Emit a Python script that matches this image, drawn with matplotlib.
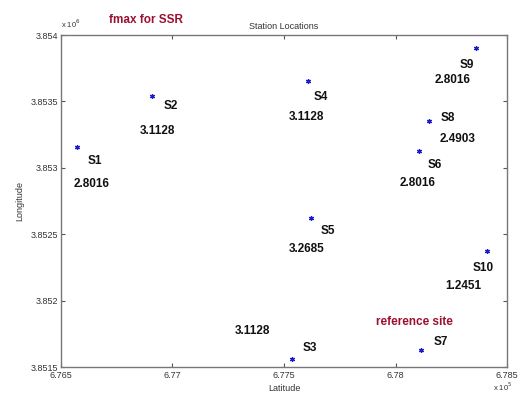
import matplotlib

matplotlib.use("Agg")
from matplotlib import pyplot as plt

# station coordinates (latitude in 1e5, longitude in 1e6)
stations = ["S1", "S2", "S3", "S4", "S5", "S6", "S7", "S8", "S9", "S10"]
latitude = [6.76570, 6.76909, 6.77534, 6.77606, 6.77621, 6.78105, 6.78114, 6.78152, 6.78361, 6.78409]
longitude = [3.85316, 3.85354, 3.85156, 3.85365, 3.85262, 3.85313, 3.85163, 3.85335, 3.85390, 3.85237]
fmax = ["2.8016", "3.1128", "3.1128", "3.1128", "3.2685", "2.8016", "reference site", "2.4903", "2.8016", "1.2451"]

x_ticks = [6.765, 6.77, 6.775, 6.78, 6.785]
x_tick_labels = ["6.765", "6.77", "6.775", "6.78", "6.785"]
y_ticks = [3.8515, 3.852, 3.8525, 3.853, 3.8535, 3.854]
y_tick_labels = ["3.8515", "3.852", "3.8525", "3.853", "3.8535", "3.854"]

# label offsets in pixels (dx right, dy down) from each marker
name_offsets = {
    "S1": (18, 14), "S2": (19, 10), "S3": (18, -11), "S4": (13, 16), "S5": (17, 13),
    "S6": (16, 14), "S7": (20, -8), "S8": (18, -3), "S9": (-9, 17), "S10": (-4, 17),
}
value_offsets = {
    "S1": (15, 37), "S2": (5, 35), "S3": (-39, -28), "S4": (-1, 36), "S5": (-4, 31),
    "S6": (-1, 32), "S7": (-6, -28), "S8": (28, 18), "S9": (-23, 32), "S10": (-23, 35),
}

plt.rcParams["font.family"] = ["Liberation Sans", "DejaVu Sans"]

fig = plt.figure(figsize=(5.2, 3.98), dpi=100)
ax = fig.add_axes([61 / 520, 1 - 367 / 398, 446 / 520, 332 / 398])

ax.plot(latitude, longitude, linestyle="none", marker=(6, 2, 0), markersize=3.5,
        color="#1a1acc", markeredgewidth=0.9)

for name, lat, lon, val in zip(stations, latitude, longitude, fmax):
    dx, dy = name_offsets[name]
    ax.annotate(name, (lat, lon), xytext=(dx, -dy), textcoords="offset pixels",
                ha="center", va="center", fontsize=8.5, fontweight="bold", color="#111111")
    dx, dy = value_offsets[name]
    color = "#9b1030" if val == "reference site" else "#111111"
    ax.annotate(val, (lat, lon), xytext=(dx, -dy), textcoords="offset pixels",
                ha="center", va="center", fontsize=8.5, fontweight="bold", color=color)

ax.set_xlim(6.765, 6.785)
ax.set_ylim(3.8515, 3.854)
ax.set_xticks(x_ticks)
ax.set_xticklabels(x_tick_labels)
ax.set_yticks(y_ticks)
ax.set_yticklabels(y_tick_labels)
ax.tick_params(direction="in", length=3, width=0.8, color="#555555", labelsize=6.5,
               labelcolor="#333333", top=True, right=True, pad=2)
ax.tick_params(axis="x", pad=3)
for spine in ax.spines.values():
    spine.set_color("#777777")
    spine.set_linewidth(1.0)

ax.set_xlabel("Latitude", fontsize=6.5, color="#333333", labelpad=3)
ax.set_ylabel("Longitude", fontsize=6.5, color="#333333", labelpad=5)
ax.set_title("Station Locations", fontsize=6.5, color="#333333", pad=4)

fig.text(61 / 520, 1 - 30 / 398, "x 10$^6$", fontsize=5.5, color="#333333", ha="left", va="bottom")
fig.text(503 / 520, 1 - 393 / 398, "x 10$^5$", fontsize=5.5, color="#333333", ha="center", va="bottom")
fig.text(146 / 520, 1 - 20 / 398, "fmax for SSR", fontsize=8.5, fontweight="bold",
         color="#9b1030", ha="center", va="center")

fig.savefig("out.png", dpi=100, facecolor="white")
plt.close(fig)
